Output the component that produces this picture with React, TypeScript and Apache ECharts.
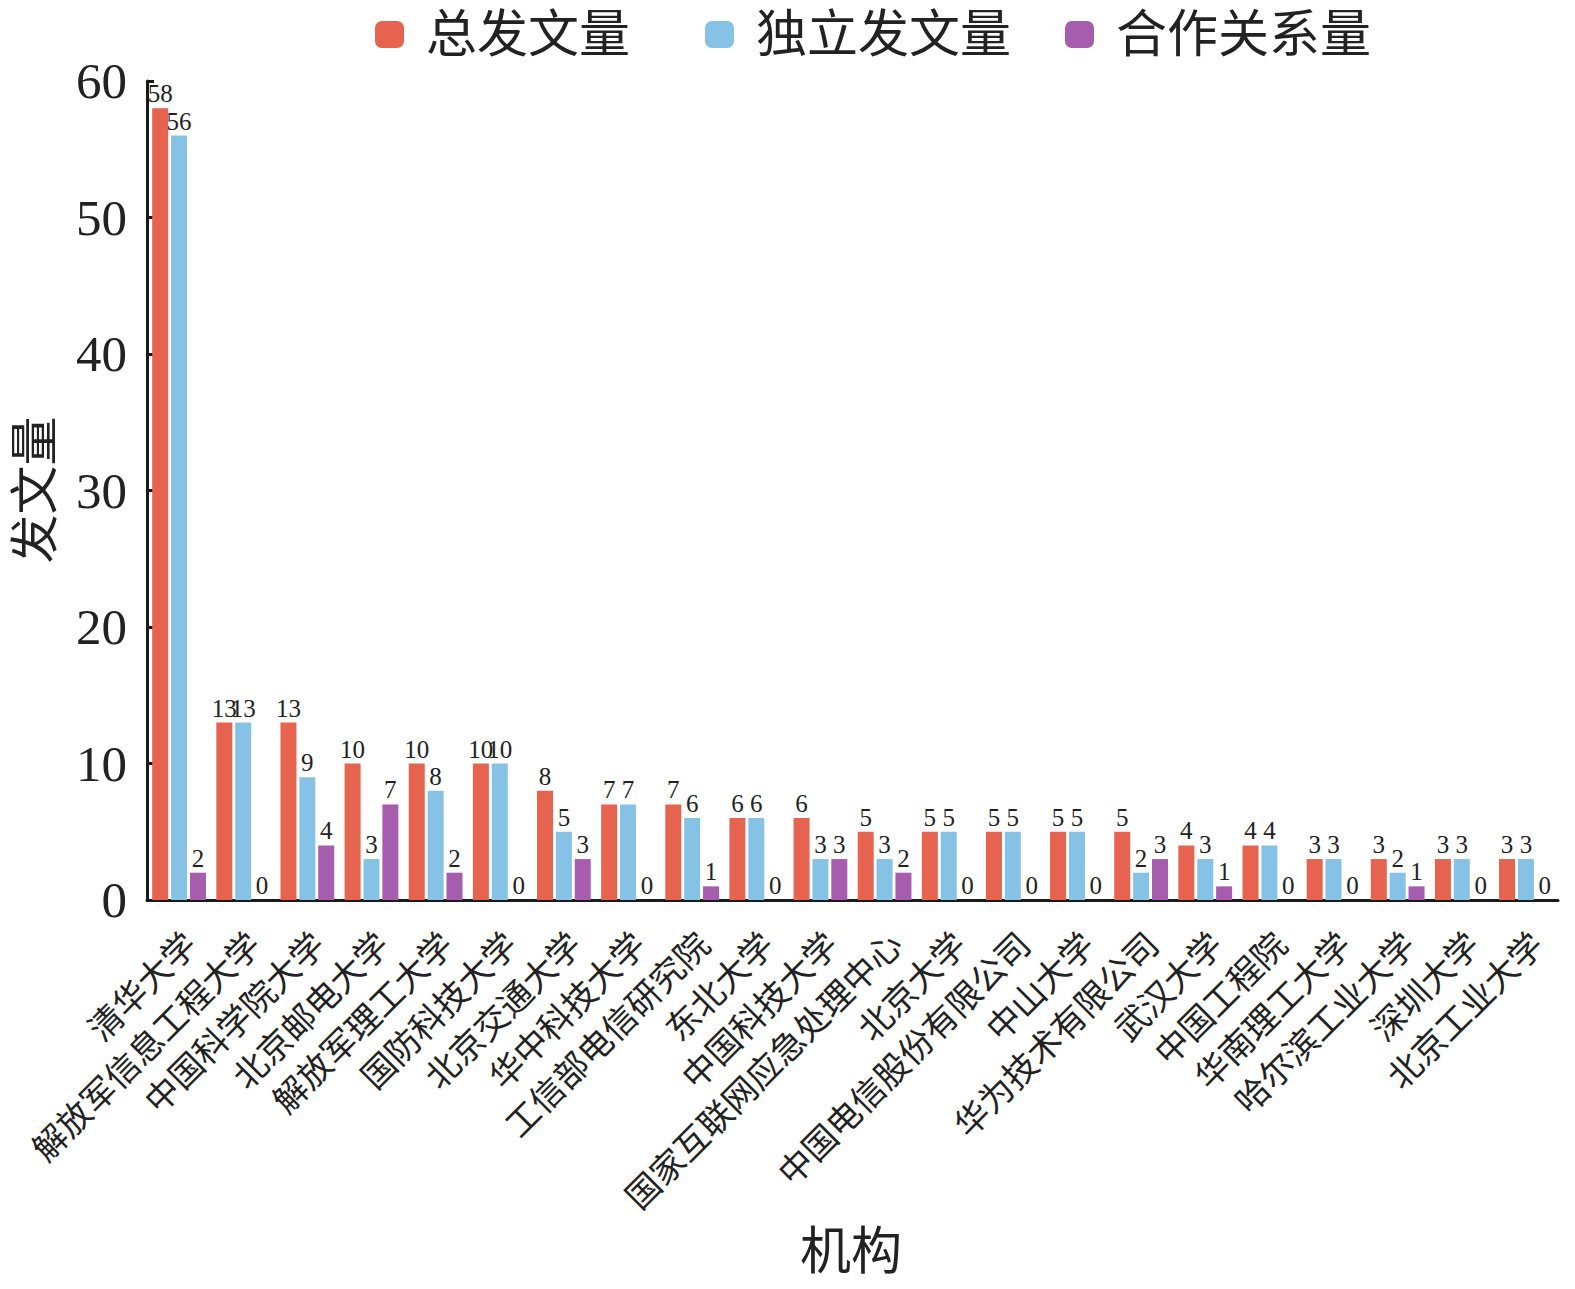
import React, { useEffect, useRef } from "react";
import * as echarts from "echarts";

const categories = [
  "清华大学", "解放军信息工程大学", "中国科学院大学", "北京邮电大学", "解放军理工大学",
  "国防科技大学", "北京交通大学", "华中科技大学", "工信部电信研究院", "东北大学",
  "中国科技大学", "国家互联网应急处理中心", "北京大学", "中国电信股份有限公司", "中山大学",
  "华为技术有限公司", "武汉大学", "中国工程院", "华南理工大学", "哈尔滨工业大学",
  "深圳大学", "北京工业大学",
];
const totalPapers = [58, 13, 13, 10, 10, 10, 8, 7, 7, 6, 6, 5, 5, 5, 5, 5, 4, 4, 3, 3, 3, 3];
const soloPapers = [56, 13, 9, 3, 8, 10, 5, 7, 6, 6, 3, 3, 5, 5, 5, 2, 3, 4, 3, 2, 3, 3];
const coopLinks = [2, 0, 4, 7, 2, 0, 3, 0, 1, 0, 3, 2, 0, 0, 0, 3, 1, 0, 0, 1, 0, 0];
const seriesNames = ["总发文量", "独立发文量", "合作关系量"];
const yTicks = [0, 10, 20, 30, 40, 50, 60];

const FONT = "'Liberation Serif', 'Noto Sans CJK SC', serif";
const colors = ["#E5634F", "#86C1E6", "#A65DAE"];

export default function App() {
  const ref = useRef<HTMLDivElement>(null);
  useEffect(() => {
    document.body.style.margin = "0";
    if (!ref.current) return;
    const chart = echarts.init(ref.current, undefined, { renderer: "svg" });
    const label = {
      show: true,
      position: "top" as const,
      distance: 2,
      fontFamily: FONT,
      fontSize: 25,
      color: "#222",
    };
    const data = [totalPapers, soloPapers, coopLinks];
    const legendBase = {
      top: 4,
      itemWidth: 29,
      itemHeight: 27,
      itemGap: 54,
      icon: "roundRect",
      textStyle: { fontFamily: FONT, fontSize: 51, color: "#222", padding: [0, 0, 0, 17] },
    };
    chart.setOption({
      animation: false,
      backgroundColor: "#fff",
      textStyle: { fontFamily: FONT },
      legend: [
        { ...legendBase, left: 370, data: [seriesNames[0]] },
        { ...legendBase, left: 700, data: [seriesNames[1], seriesNames[2]] },
      ],
      grid: { left: 147, right: 17, top: 81, bottom: 389, containLabel: false },
      xAxis: {
        type: "category",
        data: categories,
        axisLine: { lineStyle: { color: "#1a1a1a", width: 3 } },
        axisTick: { inside: true, length: 10, lineStyle: { color: "#1a1a1a", width: 3 }, interval: 0 },
        axisLabel: {
          interval: 0,
          rotate: 45,
          margin: 27,
          verticalAlign: "top",
          fontFamily: FONT,
          fontSize: 34,
          color: "#222",
        },
        splitLine: { show: false },
      },
      yAxis: {
        type: "value",
        min: yTicks[0],
        max: yTicks[yTicks.length - 1],
        interval: 10,
        axisLine: { show: true, lineStyle: { color: "#1a1a1a", width: 3 } },
        axisTick: { show: true, inside: true, length: 7, lineStyle: { color: "#1a1a1a", width: 3 } },
        axisLabel: { margin: 20, fontFamily: FONT, fontSize: 51, color: "#222" },
        splitLine: { show: false },
      },
      graphic: [
        {
          type: "text",
          x: 35,
          y: 490,
          rotation: Math.PI / 2,
          style: {
            text: "发文量",
            fontFamily: FONT,
            fontSize: 49,
            fill: "#222",
            align: "center",
            verticalAlign: "middle",
          },
        },
        {
          type: "text",
          x: 851,
          y: 1252,
          style: {
            text: "机构",
            fontFamily: FONT,
            fontSize: 51,
            fill: "#222",
            align: "center",
            verticalAlign: "middle",
          },
        },
      ],
      series: seriesNames.map((name, i) => ({
        name,
        type: "bar",
        data: data[i],
        barWidth: 16,
        barGap: "18%",
        itemStyle: { color: colors[i] },
        label,
      })),
    });
    return () => chart.dispose();
  }, []);
  return <div ref={ref} style={{ width: 1575, height: 1289 }} />;
}
